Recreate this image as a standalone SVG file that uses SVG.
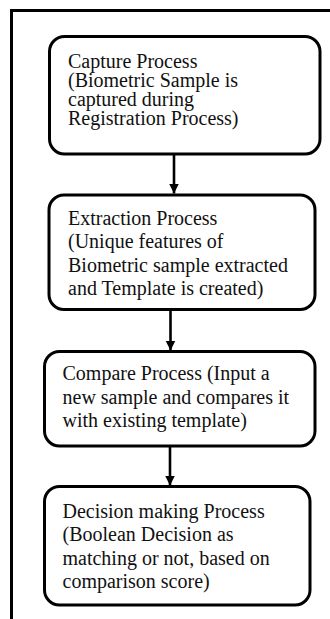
<svg xmlns="http://www.w3.org/2000/svg" width="330" height="619" viewBox="0 0 330 619">
<style>
.box{fill:#fff;stroke:#000;stroke-width:3}
.t{font-family:"Liberation Serif","Times New Roman",serif;font-size:20px;fill:#111}
.c{stroke:#000;stroke-width:2.6;fill:none}
</style>
<defs>
<marker id="ah" markerUnits="userSpaceOnUse" markerWidth="10" markerHeight="11" refX="10" refY="5" orient="auto">
<path d="M0,0 L10,5 L0,10 Z" fill="#000"/>
</marker>
</defs>
<rect width="330" height="619" fill="#fff"/>
<path d="M11.5,619 V10.5 H330" fill="none" stroke="#000" stroke-width="3"/>
<g id="connectors">
<line class="c" x1="174" y1="154" x2="174" y2="193.5" marker-end="url(#ah)"/>
<line class="c" x1="170.5" y1="310" x2="170.5" y2="350.5" marker-end="url(#ah)"/>
<line class="c" x1="170" y1="446" x2="170" y2="485.5" marker-end="url(#ah)"/>
</g>
<g id="capture">
<rect class="box" x="49.5" y="36.5" width="270.5" height="117.5" rx="15"/>
<text class="t" x="68" y="68">Capture Process</text>
<text class="t" x="68" y="87">(Biometric Sample is</text>
<text class="t" x="68" y="106">captured during</text>
<text class="t" x="68" y="125">Registration Process)</text>
</g>
<g id="extraction">
<rect class="box" x="49" y="195" width="266" height="114.5" rx="15"/>
<text class="t" x="68" y="224.5">Extraction Process</text>
<text class="t" x="68" y="248">(Unique features of</text>
<text class="t" x="68" y="271.5">Biometric sample extracted</text>
<text class="t" x="68" y="295">and Template is created)</text>
</g>
<g id="compare">
<rect class="box" x="44.5" y="351.5" width="270.5" height="94.5" rx="15"/>
<text class="t" x="62.5" y="380">Compare Process (Input a</text>
<text class="t" x="62.5" y="403.5">new sample and compares it</text>
<text class="t" x="62.5" y="427">with existing template)</text>
</g>
<g id="decision">
<rect class="box" x="44.5" y="486.5" width="265.5" height="118.5" rx="15"/>
<text class="t" x="62.5" y="517.5">Decision making Process</text>
<text class="t" x="62.5" y="541">(Boolean Decision as</text>
<text class="t" x="62.5" y="564.5">matching or not, based on</text>
<text class="t" x="62.5" y="588">comparison score)</text>
</g>
</svg>
